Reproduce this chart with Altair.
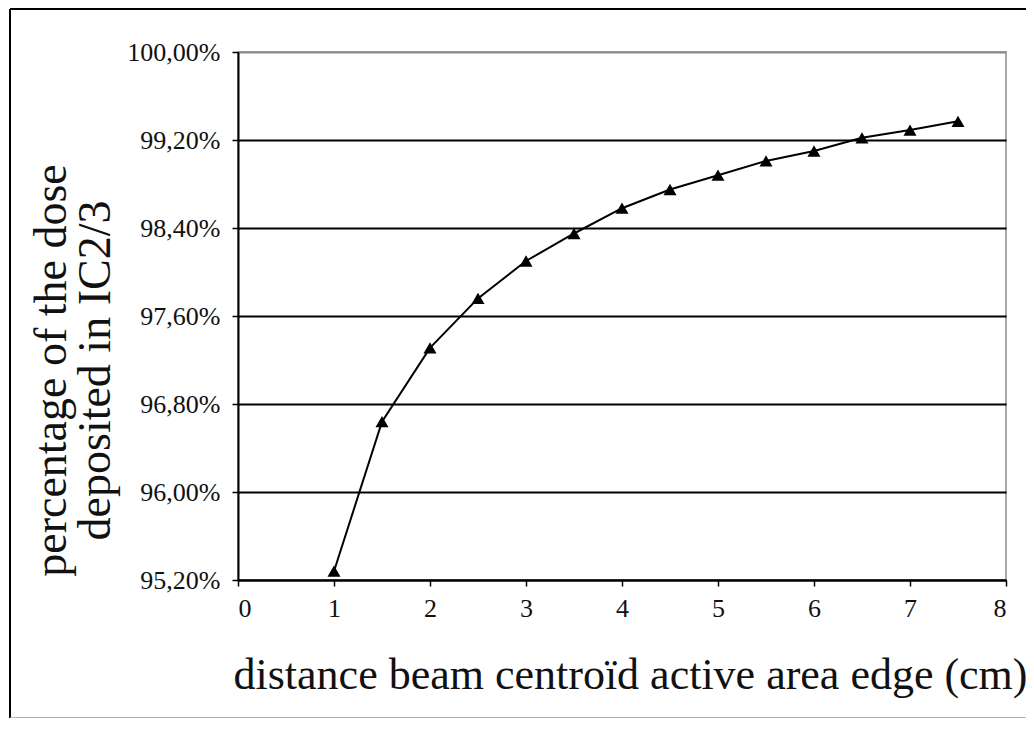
import altair as alt
import pandas as pd

distance_cm = [1, 1.5, 2, 2.5, 3, 3.5, 4, 4.5, 5, 5.5, 6, 6.5, 7, 7.5]
dose_pct = [95.28, 96.64, 97.31, 97.76, 98.10, 98.35, 98.58, 98.75, 98.88, 99.01, 99.10, 99.22, 99.29, 99.37]
x_ticks = [0, 1, 2, 3, 4, 5, 6, 7, 8]
y_ticks = [95.2, 96.0, 96.8, 97.6, 98.4, 99.2, 100.0]

x_title = "distance beam  centroïd active area edge (cm)"
y_title = ["percentage of the dose", "deposited in IC2/3"]

df = pd.DataFrame({"distance": distance_cm, "dose": dose_pct})
FONT = "Liberation Serif, Times New Roman, serif"

x_enc = alt.X(
    "distance:Q",
    scale=alt.Scale(domain=[0, 8], nice=False, zero=False),
    axis=alt.Axis(
        values=x_ticks, grid=False, title=x_title, format="d",
        labelFont=FONT, labelFontSize=26, labelColor="#111", labelPadding=9,
        titleFont=FONT, titleFontSize=44, titleFontWeight="normal", titleColor="#111",
        titlePadding=32, titleX=392,
        domainColor="black", domainWidth=2, tickColor="black", tickWidth=1.5, tickSize=6,
    ),
)
y_enc = alt.Y(
    "dose:Q",
    scale=alt.Scale(domain=[95.2, 100], nice=False, zero=False),
    axis=alt.Axis(
        values=y_ticks, grid=True, title=y_title,
        labelExpr="replace(format(datum.value, '.2f'), '.', ',') + '%'",
        labelFont=FONT, labelFontSize=26, labelColor="#111", labelPadding=12,
        titleFont=FONT, titleFontSize=46, titleFontWeight="normal", titleColor="#111",
        titleLineHeight=44, titleBaseline="alphabetic", titleX=-173, titleY=318,
        domainColor="black", domainWidth=2, tickColor="black", tickWidth=1.5, tickSize=6,
        gridColor={"condition": {"test": "datum.value >= 99.99", "value": "#8a8a8a"}, "value": "black"},
        gridWidth=2, gridOpacity=1,
    ),
)

base = alt.Chart(df)
line = base.mark_line(color="black", strokeWidth=2).encode(x=x_enc, y=y_enc)
pts = base.mark_point(shape="triangle-up", filled=True, color="black", opacity=1, size=170).encode(
    x="distance:Q", y="dose:Q"
)

frame_df = pd.DataFrame({"k": [0]})
frame_left = alt.Chart(frame_df).mark_rule(color="black", strokeWidth=2).encode(
    x=alt.value(-228), y=alt.value(-43), y2=alt.value(666)
)
frame_top = alt.Chart(frame_df).mark_rule(color="black", strokeWidth=2).encode(
    x=alt.value(-228), x2=alt.value(800), y=alt.value(-43)
)
frame_bottom = alt.Chart(frame_df).mark_rule(color="#999", strokeWidth=1.5).encode(
    x=alt.value(-228), x2=alt.value(800), y=alt.value(666)
)

chart = alt.layer(line, pts, frame_left, frame_top, frame_bottom).properties(
    width=768,
    height=528,
    padding={"left": 230, "top": 44, "right": 20, "bottom": 138},
    autosize=alt.AutoSizeParams(type="none"),
    background="white",
).configure_view(stroke="#8a8a8a", strokeWidth=1.5)

chart.save("out.html", embed_options={"renderer": "svg", "actions": False})
